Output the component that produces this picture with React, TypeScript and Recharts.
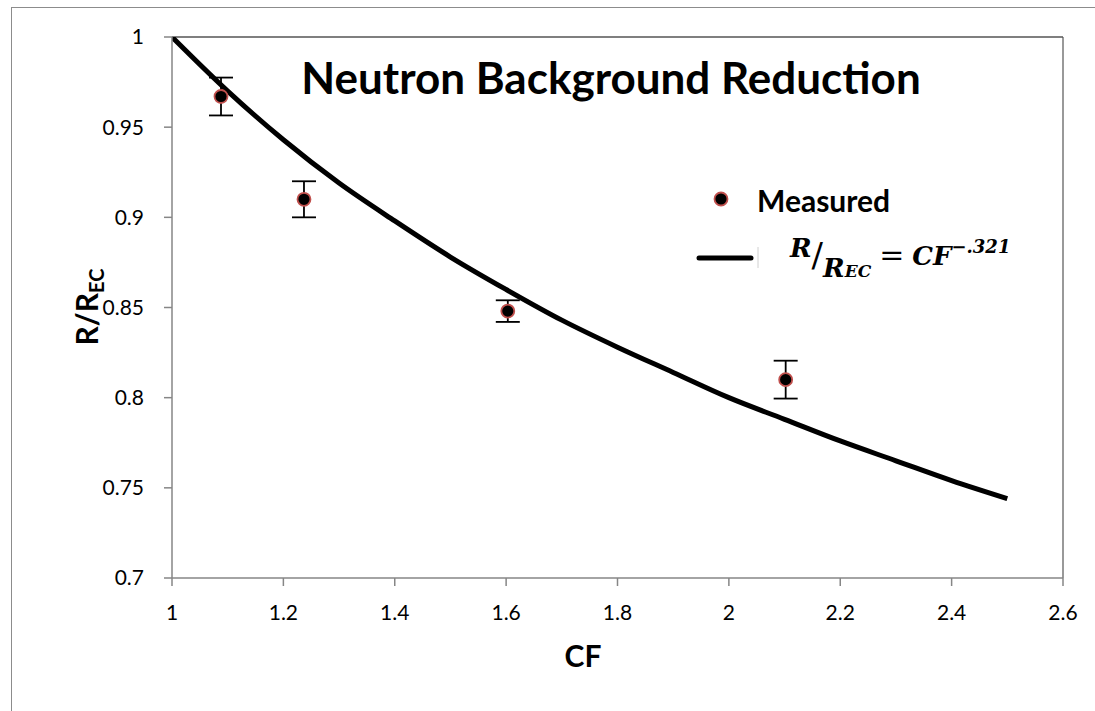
import React from "react";
import {
  ComposedChart,
  Line,
  Scatter,
  ErrorBar,
  XAxis,
  YAxis,
  ReferenceLine,
} from "recharts";

// measured points (CF, R/R_EC, +/- error)
const measuredCF = [1.088, 1.237, 1.603, 2.102];
const measuredR = [0.967, 0.91, 0.848, 0.81];
const measuredErr = [0.0105, 0.01, 0.006, 0.0105];

// fit curve
const fitCF = [1.0, 1.1, 1.2, 1.3, 1.4, 1.5, 1.6, 1.7, 1.8, 1.9, 2.0, 2.1, 2.2, 2.3, 2.4, 2.5];
const fitR = [1.0, 0.97, 0.943, 0.919, 0.898, 0.878, 0.86, 0.843, 0.828, 0.814, 0.8, 0.788, 0.776, 0.765, 0.754, 0.744];

const xTicks = [1, 1.2, 1.4, 1.6, 1.8, 2, 2.2, 2.4, 2.6];
const yTicks = [0.7, 0.75, 0.8, 0.85, 0.9, 0.95, 1];

const measured = measuredCF.map((x, i) => ({ x, y: measuredR[i], err: measuredErr[i] }));
const fit = fitCF.map((x, i) => ({ x, y: fitR[i] }));

const FONT = "Lato, 'Open Sans', sans-serif";
const AXIS = "#868686";

const Dot = (props: any) => {
  const { cx, cy } = props;
  if (cx == null || cy == null) return null;
  return <circle cx={cx} cy={cy} r={6.5} fill="#000" stroke="#c0504d" strokeWidth={1.8} />;
};

export default function App() {
  return (
    <div
      style={{
        position: "absolute",
        left: 0,
        top: 0,
        width: 1095,
        height: 711,
        overflow: "hidden",
        background: "#fff",
        fontFamily: FONT,
      }}
    >
      {/* outer chart border */}
      <div
        style={{
          position: "absolute",
          left: 11,
          top: 7,
          width: 1100,
          height: 720,
          border: "1.5px solid #8c8c8c",
          boxSizing: "border-box",
        }}
      />

      <ComposedChart
        width={1095}
        height={711}
        margin={{ top: 37, right: 32, bottom: 73, left: 72 }}
        style={{ position: "absolute", left: 0, top: 0 }}
      >
        <XAxis
          type="number"
          dataKey="x"
          domain={[1, 2.6]}
          ticks={xTicks}
          allowDataOverflow
          height={60}
          stroke={AXIS}
          strokeWidth={1.5}
          tickSize={8}
          tickMargin={19}
          tick={{ fill: "#000", fontSize: 21, fontFamily: FONT }}
        />
        <YAxis
          type="number"
          dataKey="y"
          domain={[0.7, 1]}
          ticks={yTicks}
          allowDataOverflow
          width={100}
          stroke={AXIS}
          strokeWidth={1.5}
          tickSize={8}
          tickMargin={20}
          tick={{ fill: "#000", fontSize: 21, fontFamily: FONT }}
        />
        <ReferenceLine y={1} stroke="#000" strokeWidth={1.2} />
        <ReferenceLine x={2.6} stroke="#555" strokeWidth={1.2} />
        <Line
          data={fit}
          dataKey="y"
          type="monotone"
          stroke="#000"
          strokeWidth={5}
          dot={false}
          activeDot={false}
          isAnimationActive={false}
        />
        <Scatter data={measured} dataKey="y" shape={<Dot />} isAnimationActive={false}>
          <ErrorBar dataKey="err" direction="y" width={12} stroke="#000" strokeWidth={1.8} />
        </Scatter>
      </ComposedChart>

      {/* title */}
      <div
        style={{
          position: "absolute",
          left: 611,
          top: 77,
          transform: "translate(-50%, -50%)",
          fontSize: 44,
          fontWeight: 700,
          whiteSpace: "nowrap",
        }}
      >
        Neutron Background Reduction
      </div>

      {/* axis titles */}
      <div
        style={{
          position: "absolute",
          left: 583,
          top: 655,
          transform: "translate(-50%, -50%)",
          fontSize: 30,
          fontWeight: 700,
        }}
      >
        CF
      </div>
      <div
        style={{
          position: "absolute",
          left: 88,
          top: 307,
          transform: "translate(-50%, -50%) rotate(-90deg)",
          fontSize: 30,
          fontWeight: 700,
          whiteSpace: "nowrap",
        }}
      >
        R/R<sub style={{ fontSize: 20, verticalAlign: "-0.3em" }}>EC</sub>
      </div>

      {/* legend */}
      <svg style={{ position: "absolute", left: 0, top: 0 }} width={1095} height={711}>
        <circle cx={721} cy={199} r={6.5} fill="#000" stroke="#c0504d" strokeWidth={1.8} />
        <line x1={699} y1={258} x2={751} y2={258} stroke="#000" strokeWidth={5} strokeLinecap="round" />
        <line x1={758} y1={247} x2={758} y2={268} stroke="#d0d0d0" strokeWidth={1} />
      </svg>
      <div
        style={{
          position: "absolute",
          left: 757,
          top: 200,
          transform: "translateY(-50%)",
          fontSize: 30,
          fontWeight: 700,
        }}
      >
        Measured
      </div>
      <div
        style={{
          position: "absolute",
          left: 790,
          top: 236,
          fontFamily: "'DejaVu Serif', 'Liberation Serif', serif",
          fontStyle: "italic",
          fontWeight: 700,
          fontSize: 26,
          whiteSpace: "nowrap",
          lineHeight: 1,
        }}
      >
        <span style={{ position: "relative", top: -8 }}>R</span>
        <span style={{ fontStyle: "normal", fontWeight: 400, fontSize: 34, position: "relative", top: 2 }}>/</span>
        <span style={{ position: "relative", top: 12 }}>
          R<span style={{ fontSize: 17 }}>EC</span>
        </span>
        <span style={{ fontStyle: "normal", fontWeight: 400, fontSize: 30, margin: "0 8px" }}>=</span>
        <span>CF</span>
        <span style={{ fontSize: 18, position: "relative", top: -12 }}>−.321</span>
      </div>
    </div>
  );
}
